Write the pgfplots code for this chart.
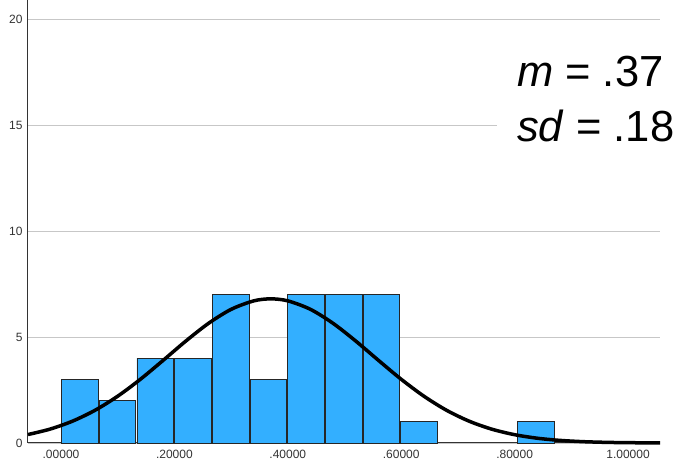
\documentclass[border=0pt]{standalone}
\usepackage{pgfplots}
\pgfplotsset{compat=1.18}
\usepackage{fontspec}
\setmainfont{Liberation Sans}
\definecolor{barblue}{RGB}{51,175,255}
\begin{document}
\begin{tikzpicture}
\begin{axis}[
  scale only axis, width=632pt, height=443pt,
  xmin=-0.0582, xmax=1.0564, ymin=0, ymax=20.9,
  axis lines=left,
  axis line style={-, draw=black!80, line width=1pt},
  ytick={0,5,10,15,20},
  ymajorgrids,
  grid style={draw=black!22, line width=0.9pt},
  xtick={0,0.2,0.4,0.6,0.8,1},
  xticklabels={.00000,.20000,.40000,.60000,.80000,1.00000},
  major tick length=0pt,
  tick label style={font=\fontsize{12}{14}\selectfont, text=black!80},
  xticklabel style={yshift=-4pt},
  yticklabel style={xshift=-2pt},
  /pgf/number format/assume math mode=true,
  clip=false,
]
\addplot[ybar interval, bar interval width=0.97, fill=barblue, draw=black!85, line width=0.9pt]
  coordinates {(0,3) (0.0665,2) (0.133,4) (0.1995,4) (0.266,7) (0.3325,3) (0.399,7) (0.4655,7) (0.532,7) (0.5985,1) (0.665,1)};
\addplot[ybar interval, bar interval width=0.97, fill=barblue, draw=black!85, line width=0.9pt]
  coordinates {(0.804,1) (0.8705,1)};
\addplot[black, line width=3.5pt, smooth] coordinates {
 (-0.0582,0.40) (-0.02,0.650) (0.02,1.027) (0.06,1.543) (0.10,2.208) (0.14,3.006)
 (0.18,3.896) (0.22,4.806) (0.26,5.642) (0.30,6.305) (0.34,6.706) (0.37,6.80)
 (0.40,6.706) (0.44,6.305) (0.48,5.642) (0.52,4.806) (0.56,3.896) (0.60,3.006)
 (0.64,2.208) (0.68,1.543) (0.72,1.027) (0.76,0.650) (0.80,0.392) (0.84,0.225)
 (0.88,0.123) (0.92,0.0636) (0.96,0.0312) (1.00,0.0146) (1.0564,0.004)};
\fill[white] (rel axis cs:0.742,0.639) rectangle (rel axis cs:1.03,0.921);
\node[anchor=base west, font=\fontsize{43.5}{50}\selectfont, inner sep=0pt] at (rel axis cs:0.7737,0.8036) {\textit{m} = .37};
\node[anchor=base west, font=\fontsize{43.5}{50}\selectfont, inner sep=0pt] at (rel axis cs:0.7737,0.6795) {\textit{sd} = .18};
\end{axis}
\pgfresetboundingbox
\path[use as bounding box] (-28pt,-19pt) rectangle (651pt,443pt);
\end{tikzpicture}
\end{document}
